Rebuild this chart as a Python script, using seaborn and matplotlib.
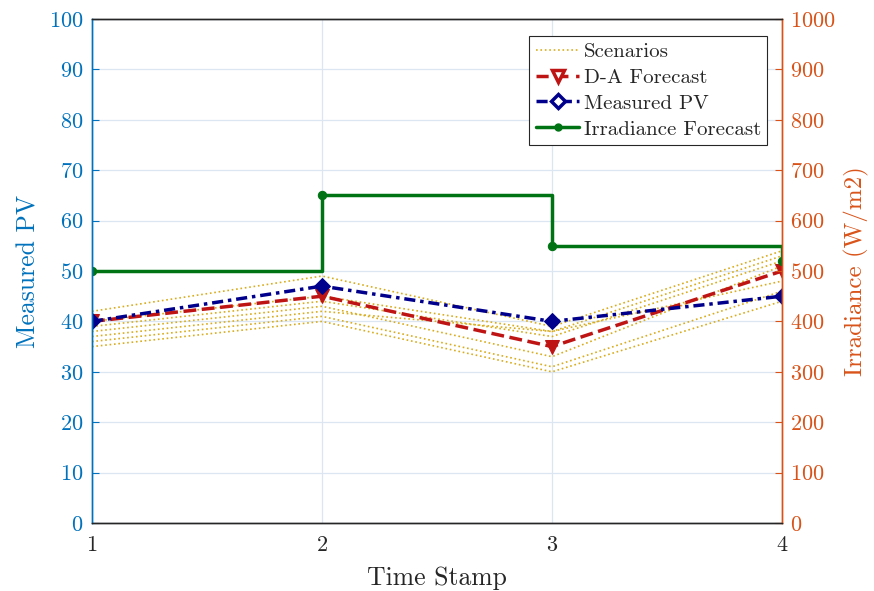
import numpy as np
import pandas as pd
import matplotlib
matplotlib.use('Agg')
import matplotlib.pyplot as plt
import seaborn as sns
from matplotlib.lines import Line2D

# 数据
time_stamp = [1, 2, 3, 4]
scenarios = [
    [42, 49, 39, 54],
    [40, 45, 38, 53],
    [39, 44, 37, 52],
    [38, 43, 33, 51],
    [37, 42, 38, 48],
    [36, 41, 31, 46],
    [35, 40, 30, 44],
]
da_forecast = [40, 45, 35, 50]
measured_pv = [40, 47, 40, 45]
irradiance = [500, 650, 550, 520]

# 颜色
c_left = (0.0, 0.447, 0.741)
c_right = (0.85, 0.325, 0.098)
c_scen = (0.85, 0.68, 0.12)
c_red = (0.75, 0.08, 0.08)
c_blue = (0.0, 0.0, 0.55)
c_green = (0.0, 0.45, 0.08)
c_dark = (0.15, 0.15, 0.15)

sns.set_style('white')
plt.rcParams['font.family'] = ['cmr10', 'DejaVu Serif']
plt.rcParams['axes.formatter.use_mathtext'] = True
plt.rcParams['mathtext.fontset'] = 'cm'

fig = plt.figure(figsize=(8.74, 5.91), dpi=100)
ax = fig.add_axes([92 / 874, 1 - 523 / 591, 690 / 874, 504 / 591])
ax2 = ax.twinx()

# 场景
scen_df = pd.DataFrame([
    {'t': t, 'v': v, 's': i}
    for i, row in enumerate(scenarios) for t, v in zip(time_stamp, row)
])
sns.lineplot(data=scen_df, x='t', y='v', units='s', estimator=None, ax=ax,
             color=c_scen, linestyle=':', linewidth=1.2, legend=False)

sns.lineplot(x=time_stamp, y=da_forecast, ax=ax, color=c_red, linestyle='--',
             linewidth=2.5, marker='v', markersize=10, markeredgecolor=c_red,
             dashes=(3.5, 2.2), legend=False)
sns.lineplot(x=time_stamp, y=measured_pv, ax=ax, color=c_blue, linewidth=2.5,
             marker='D', markersize=8, markeredgecolor=c_blue,
             dashes=(3.2, 1.4, 1.0, 1.4), legend=False)

sns.lineplot(x=time_stamp, y=irradiance, ax=ax2, color=c_green, linewidth=2.5,
             drawstyle='steps-post', marker='o', markersize=6,
             markeredgecolor=c_green, legend=False)

# 坐标轴
ax.set_xlim(1, 4)
ax.set_ylim(0, 100)
ax2.set_ylim(0, 1000)
ax.set_xticks(time_stamp)
ax.set_yticks(np.arange(0, 101, 10))
ax2.set_yticks(np.arange(0, 1001, 100))

ax.grid(True, color=(0.86, 0.9, 0.95), linewidth=0.9)
ax.set_axisbelow(True)

ax.set_xlabel('Time Stamp', fontsize=18.5, color=c_dark, labelpad=8)
ax.set_ylabel('Measured PV', fontsize=18.5, color=c_left, labelpad=6)
ax2.set_ylabel('Irradiance (W/m2)', fontsize=18, color=c_right, labelpad=6)

ax.tick_params(axis='x', direction='in', labelsize=16, colors=c_dark, length=5, pad=9)
ax.tick_params(axis='y', direction='in', labelsize=16, colors=c_left, length=5, pad=6)
ax2.tick_params(axis='y', direction='in', labelsize=16, colors=c_right, length=5, pad=6)

for a in (ax, ax2):
    a.spines['top'].set_color(c_dark)
    a.spines['bottom'].set_color(c_dark)
    a.spines['left'].set_color(c_left)
    a.spines['right'].set_color(c_right)
    for s in a.spines.values():
        s.set_linewidth(1.0)

# 图例
handles = [
    Line2D([], [], color=c_scen, linestyle=':', linewidth=1.2),
    Line2D([], [], color=c_red, linestyle='--', linewidth=2.5, marker='v',
           markersize=9, markerfacecolor='white', markeredgewidth=2.5, dashes=(3.5, 2.2)),
    Line2D([], [], color=c_blue, linestyle='--', linewidth=2.5, marker='D',
           markersize=7, markerfacecolor='white', markeredgewidth=2.5, dashes=(3.2, 1.4, 1.0, 1.4)),
    Line2D([], [], color=c_green, linestyle='-', linewidth=2.5, marker='o',
           markersize=5),
]
labels = ['Scenarios', 'D-A Forecast', 'Measured PV', 'Irradiance Forecast']
leg = ax2.legend(handles, labels, loc='upper right', bbox_to_anchor=(0.9785, 0.966),
                 fontsize=15, frameon=True, fancybox=False, edgecolor=c_dark,
                 framealpha=1, handlelength=2.1, handletextpad=0.2, borderpad=0.3,
                 labelspacing=0.35, borderaxespad=0)
leg.get_frame().set_linewidth(0.8)

fig.savefig('out.png', dpi=100)
